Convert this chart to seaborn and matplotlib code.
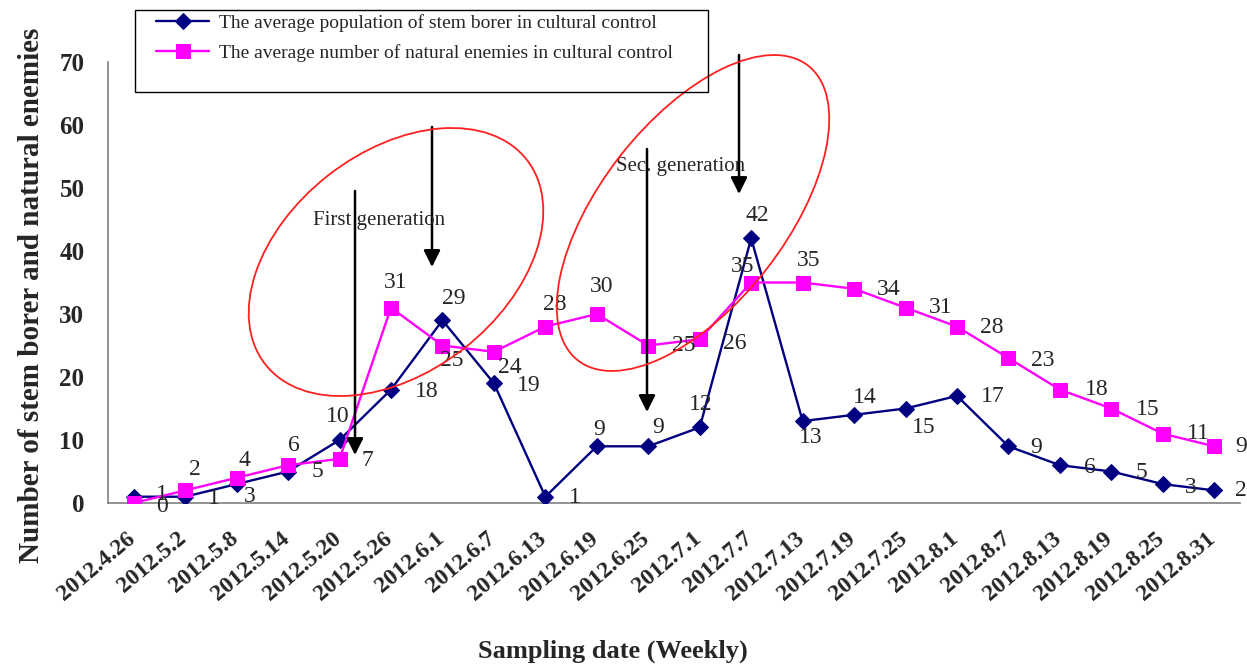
import matplotlib
matplotlib.use("Agg")
import matplotlib.pyplot as plt
from matplotlib.patches import Ellipse, Rectangle
from matplotlib.transforms import IdentityTransform, ScaledTranslation
from matplotlib.ticker import FixedLocator
import seaborn as sns
import pandas as pd

# ---------------- data ----------------
dates = ["2012.4.26", "2012.5.2", "2012.5.8", "2012.5.14", "2012.5.20", "2012.5.26",
         "2012.6.1", "2012.6.7", "2012.6.13", "2012.6.19", "2012.6.25", "2012.7.1",
         "2012.7.7", "2012.7.13", "2012.7.19", "2012.7.25", "2012.8.1", "2012.8.7",
         "2012.8.13", "2012.8.19", "2012.8.25", "2012.8.31"]
stem_borer = [1, 1, 3, 5, 10, 18, 29, 19, 1, 9, 9, 12, 42, 13, 14, 15, 17, 9, 6, 5, 3, 2]
natural_enemies = [0, 2, 4, 6, 7, 31, 25, 24, 28, 30, 25, 26, 35, 35, 34, 31, 28, 23, 18, 15, 11, 9]
borer_name = "The average population of stem borer in cultural control"
enemy_name = "The average number of natural enemies in cultural control"
y_ticks = [0, 10, 20, 30, 40, 50, 60, 70]

# label offsets (pixels, right / down) -- styling only
borer_off = [(28, -2), (29, 2), (13, 12), (29, 0), (-2, -23), (36, 2), (11, -22), (35, 2),
             (29, 1), (2, -17), (10, -19), (1, -23), (6, -23), (8, 16), (11, -17), (18, 19),
             (36, 1), (28, 1), (30, 2), (30, 1), (28, 3), (27, 0)]
enemy_off = [(28, 3), (10, -21), (8, -17), (6, -20), (28, 2), (5, -25), (9, 15), (16, 16),
             (9, -22), (5, -27), (35, 0), (35, 4), (-9, -16), (6, -22), (35, 1), (35, 0),
             (35, 1), (34, 2), (37, 0), (36, 1), (36, 0), (27, 0)]

df = pd.DataFrame({"pos": range(len(dates)), "date": dates,
                   "borer": stem_borer, "enemy": natural_enemies})

sns.set_style("white")
plt.rcParams["font.family"] = ["Liberation Serif", "DejaVu Serif"]

W, H = 1247, 666
fig = plt.figure(figsize=(W / 100, H / 100), dpi=100)
ax = fig.add_axes([108 / W, 1 - 503 / H, (1240 - 108) / W, (503 - 62) / H])

BLUE = "#000080"
PINK = "#FF00FF"

sns.lineplot(data=df, x="pos", y="borer", ax=ax, color=BLUE, marker="D",
             markersize=8, markeredgecolor=BLUE, markerfacecolor=BLUE,
             linewidth=1.7, label=borer_name, zorder=3)
sns.lineplot(data=df, x="pos", y="enemy", ax=ax, color=PINK, marker="s",
             markersize=10.5, markeredgecolor=PINK, markerfacecolor=PINK,
             linewidth=1.7, label=enemy_name, zorder=4)

# data labels
for i, (v, (dx, dy)) in enumerate(zip(df["borer"], borer_off)):
    ax.annotate(str(v), (df["pos"][i], v), xytext=(dx, -dy), textcoords="offset pixels",
                ha="center", va="center", fontsize=17, zorder=6, annotation_clip=False)
for i, (v, (dx, dy)) in enumerate(zip(df["enemy"], enemy_off)):
    ax.annotate(str(v), (df["pos"][i], v), xytext=(dx, -dy), textcoords="offset pixels",
                ha="center", va="center", fontsize=17, zorder=6, annotation_clip=False)

# axes
n = len(dates)
ax.set_xlim(-0.5, n - 0.5)
ax.set_ylim(0, 70)
ax.set_yticks(y_ticks)
ax.set_yticklabels([str(t) for t in y_ticks], fontsize=18, fontweight="bold")
ax.set_xticks(list(df["pos"]))
ax.set_xticklabels(dates, fontsize=17, fontweight="bold", rotation=40,
                   ha="right", va="top", rotation_mode="anchor")
ax.xaxis.set_minor_locator(FixedLocator([k - 0.5 for k in range(n + 1)]))
ax.tick_params(axis="x", which="major", length=0, pad=18)
ax.tick_params(axis="x", which="minor", length=8, width=1, color="#808080", direction="out")
ax.tick_params(axis="y", which="major", length=8, width=1, color="#808080",
               direction="out", pad=9)
for s in ["top", "right"]:
    ax.spines[s].set_visible(False)
for s in ["left", "bottom"]:
    ax.spines[s].set_color("#808080")
    ax.spines[s].set_linewidth(1.2)
ax.grid(False)

shift = ScaledTranslation(-8 / 100, 0, fig.dpi_scale_trans)
for lab in ax.get_xticklabels():
    lab.set_transform(lab.get_transform() + shift)

ax.set_ylabel("Number of stem borer and natural enemies", fontsize=21, fontweight="bold")
ax.yaxis.set_label_coords(-0.056, 0.47)
ax.set_xlabel("Sampling date (Weekly)", fontsize=19, fontweight="bold")
ax.xaxis.set_label_coords(0.446, -0.31)

# legend (frame drawn as a box in figure pixels)
handles, labels = ax.get_legend_handles_labels()
ax.get_legend().remove()
leg = fig.legend(handles, labels, loc="upper left", bbox_to_anchor=(156 / W, 1 - 14 / H),
                 prop={"family": "Liberation Serif", "size": 14}, frameon=False,
                 borderpad=0.0, handlelength=2.75, handletextpad=0.5,
                 labelspacing=0.62, borderaxespad=0)
fig.add_artist(Rectangle((135, H - 92), 708 - 135, 82, transform=IdentityTransform(),
                         fill=False, edgecolor="black", linewidth=1.0, zorder=9))

# annotations (figure pixel coordinates)
def px(x, y):
    return (x, H - y)

for (cx, cy, w, h, ang) in [(396, 262, 332, 220, 38), (693, 213, 374, 185, 52)]:
    e = Ellipse(px(cx, cy), w, h, angle=ang, transform=IdentityTransform(),
                fill=False, edgecolor="#FF2020", linewidth=1.3, zorder=7)
    fig.add_artist(e)

for (x, y0, y1) in [(355, 191, 455), (432, 127, 267), (739, 55, 194), (647, 149, 412)]:
    ax.annotate("", xy=px(x, y1), xytext=px(x, y0), xycoords="figure pixels",
                textcoords="figure pixels", annotation_clip=False,
                arrowprops=dict(arrowstyle="-|>", mutation_scale=25, lw=1.8,
                                color="black", shrinkA=0, shrinkB=0), zorder=8)

fig.text(313 / W, 1 - 220 / H, "First generation", ha="left", va="center", fontsize=15)
fig.text(616 / W, 1 - 167 / H, "Sec. generation", ha="left", va="center", fontsize=15)

fig.savefig("out.png", dpi=100)
